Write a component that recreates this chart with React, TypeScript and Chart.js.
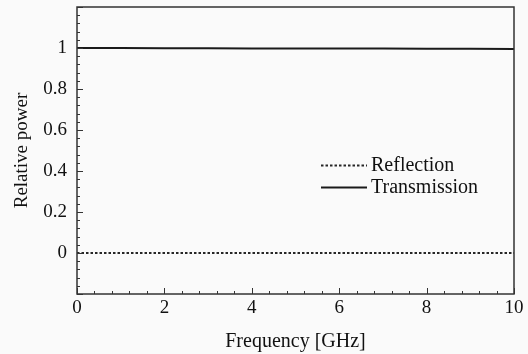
import React, { useEffect, useRef } from "react";
import { Chart, registerables } from "chart.js";

Chart.register(...registerables);

// Frequency sweep (GHz) and the relative power of each wave
const frequencyGHz = [0, 1, 2, 3, 4, 5, 6, 7, 8, 9, 10];
const transmission = [1, 1, 0.999, 0.999, 0.998, 0.998, 0.997, 0.997, 0.996, 0.996, 0.995];
const reflection = [0, 0, 0, 0, 0, 0, 0, 0, 0, 0, 0];

const seriesNames = ["Reflection", "Transmission"];
const xTitle = "Frequency [GHz]";
const yTitle = "Relative power";

const FONT = "'Liberation Serif', 'DejaVu Serif', serif";
const INK = "#111111";

// Frame around the plot plus inward major/minor ticks on the left and bottom
const framePlugin = {
  id: "frame",
  afterDatasetsDraw(chart: any) {
    const { ctx, chartArea: a, scales } = chart;
    ctx.save();
    ctx.strokeStyle = "#333333";
    ctx.lineWidth = 1.5;
    ctx.strokeRect(a.left, a.top, a.right - a.left, a.bottom - a.top);

    ctx.lineWidth = 1;
    // x ticks: major every 2, minor every 0.4
    for (let i = 0; i <= 25; i++) {
      const v = i * 0.4;
      const px = Math.round(scales.x.getPixelForValue(v)) + 0.5;
      const len = i % 5 === 0 ? 6 : 3;
      ctx.beginPath();
      ctx.moveTo(px, a.bottom);
      ctx.lineTo(px, a.bottom - len);
      ctx.stroke();
    }
    // y ticks: major every 0.2, minor every 0.04
    for (let i = 0; i <= 35; i++) {
      const v = -0.2 + i * 0.04;
      const py = Math.round(scales.y.getPixelForValue(v)) + 0.5;
      const len = i % 5 === 0 ? 6 : 3;
      ctx.beginPath();
      ctx.moveTo(a.left, py);
      ctx.lineTo(a.left + len, py);
      ctx.stroke();
    }
    ctx.restore();
  },
};

// Legend placed inside the plot area, right of centre
const legendPlugin = {
  id: "innerLegend",
  afterDraw(chart: any) {
    const { ctx } = chart;
    const x0 = 321;
    const x1 = 367;
    const rows = [165, 187];
    ctx.save();
    ctx.font = `20px ${FONT}`;
    ctx.fillStyle = INK;
    ctx.textBaseline = "middle";
    chart.data.datasets.forEach((ds: any, i: number) => {
      const y = rows[i] + 0.5;
      ctx.strokeStyle = ds.borderColor;
      ctx.lineWidth = ds.borderWidth;
      ctx.setLineDash(ds.borderDash || []);
      ctx.beginPath();
      ctx.moveTo(x0, y);
      ctx.lineTo(x1, y);
      ctx.stroke();
      ctx.setLineDash([]);
      ctx.fillText(ds.label, x1 + 4, rows[i] + 1);
    });
    ctx.restore();
  },
};

const bgPlugin = {
  id: "bg",
  beforeDraw(chart: any) {
    const { ctx, width, height } = chart;
    ctx.save();
    ctx.fillStyle = "#fafafa";
    ctx.fillRect(0, 0, width, height);
    ctx.restore();
  },
};

const noOverflow = (s: any) => {
  s.paddingTop = 0;
  s.paddingBottom = 0;
  s.paddingLeft = 0;
  s.paddingRight = 0;
};

export default function App() {
  const ref = useRef<HTMLCanvasElement | null>(null);

  useEffect(() => {
    document.body.style.margin = "0";
    document.body.style.background = "#fafafa";
    if (!ref.current) return;
    const chart = new Chart(ref.current, {
      type: "line",
      data: {
        labels: frequencyGHz,
        datasets: [
          {
            label: seriesNames[0],
            data: frequencyGHz.map((f, i) => ({ x: f, y: reflection[i] })),
            borderColor: "#262626",
            borderWidth: 2,
            borderDash: [2.5, 2],
            pointRadius: 0,
            fill: false,
          },
          {
            label: seriesNames[1],
            data: frequencyGHz.map((f, i) => ({ x: f, y: transmission[i] })),
            borderColor: "#1a1a1a",
            borderWidth: 2,
            pointRadius: 0,
            fill: false,
          },
        ],
      },
      options: {
        responsive: false,
        animation: false,
        layout: { padding: { top: 7, right: 14, left: 0, bottom: 0 } },
        plugins: {
          legend: { display: false },
          tooltip: { enabled: false },
        },
        scales: {
          x: {
            type: "linear",
            min: 0,
            max: 10,
            grid: { display: false, drawTicks: false },
            border: { display: false },
            afterFit: (s: any) => {
              noOverflow(s);
              s.height = 60;
            },
            ticks: {
              stepSize: 2,
              padding: 3,
              color: INK,
              font: { family: FONT, size: 19 },
              maxRotation: 0,
            },
            title: {
              display: true,
              text: xTitle,
              color: INK,
              font: { family: FONT, size: 20 },
              padding: { top: 1, bottom: 0 },
            },
          },
          y: {
            min: -0.2,
            max: 1.2,
            grid: { display: false, drawTicks: false },
            border: { display: false },
            afterFit: (s: any) => {
              noOverflow(s);
              s.width = 77;
            },
            ticks: {
              stepSize: 0.2,
              padding: 10,
              color: INK,
              font: { family: FONT, size: 19 },
              callback: (v: any) => {
                const n = Math.round(Number(v) * 10) / 10;
                if (n < 0 || n > 1) return "";
                return String(n);
              },
            },
            title: {
              display: true,
              text: yTitle,
              color: INK,
              font: { family: FONT, size: 19 },
              padding: { top: 11, bottom: 4 },
            },
          },
        },
      },
      plugins: [bgPlugin, framePlugin, legendPlugin],
    });
    return () => chart.destroy();
  }, []);

  return (
    <div style={{ width: 528, height: 354 }}>
      <canvas ref={ref} width={528} height={354} style={{ display: "block" }} />
    </div>
  );
}
